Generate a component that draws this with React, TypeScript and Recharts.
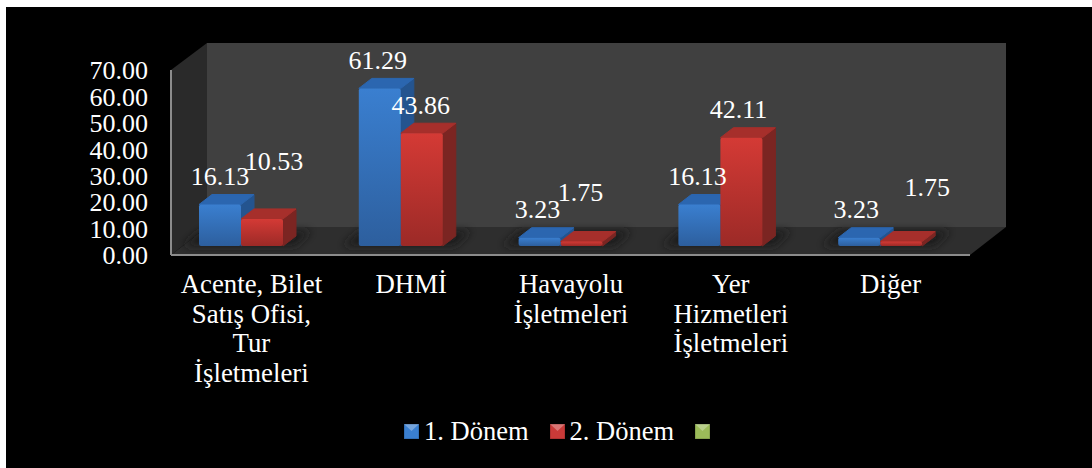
import React from 'react';
import { BarChart, Bar, XAxis, YAxis, Legend, LabelList } from 'recharts';

const tickLines = [
  ['Acente, Bilet', 'Satış Ofisi,', 'Tur', 'İşletmeleri'],
  ['DHMİ'],
  ['Havayolu', 'İşletmeleri'],
  ['Yer', 'Hizmetleri', 'İşletmeleri'],
  ['Diğer'],
];
const categories = tickLines.map((l) => l.join(' '));
const donem1 = [16.13, 61.29, 3.23, 16.13, 3.23];
const donem2 = [10.53, 43.86, 1.75, 42.11, 1.75];
const donem3 = [null, null, null, null, null];
const seriesNames = ['1. Dönem', '2. Dönem', ''];
const yTicks = [0, 10, 20, 30, 40, 50, 60, 70];

const data = categories.map((name, i) => ({
  name,
  donem1: donem1[i],
  donem2: donem2[i],
  donem3: donem3[i],
}));

// hand-moved labels in the original, [dx, dy] from the default spot above each bar
const nudges1 = [[0, 0], [-2, 0], [-2, 0], [-2, 0], [-3, 0]];
const nudges2 = [[12, -29], [-1, 0], [-1, -21], [-3, 0], [26, -26]];

const FONT = '"Liberation Serif", "Times New Roman", serif';
const DEPTH_X = 13;
const DEPTH_Y = 10;
// bars stand further back than the front axis: shifted right, lifted, slightly smaller
const BAR_SHIFT = 11;
const FLOOR_LIFT = 9;
const PLANE_SCALE = 0.973;

const toPlane = (y: number, height: number) => {
  const bottom = y + height - FLOOR_LIFT;
  return { top: bottom - height * PLANE_SCALE, bottom };
};

// the 3D room, in page pixels
const Room = () => (
  <g>
    <polygon points="207,43 1006,43 1006,227 207,227" fill="#404040" />
    <polygon points="171,70 207,43 207,227 171,255" fill="#2a2a2a" />
    <polygon points="171,255 207,227 1006,227 970,255" fill="#2e2e2e" />
  </g>
);

const make3dBar = (front: string, top: string, side: string, shadow: boolean) => (props: any) => {
  const { x, y, width, height } = props;
  if (!height) return <g />;
  const l = x + BAR_SHIFT;
  const r = l + width;
  const p = toPlane(y, height);
  return (
    <g>
      {/* the shadow covers the whole pair, so only the first series draws it */}
      {shadow && (
        <polygon
          points={`${l - 16},${p.bottom} ${l + 2},${p.bottom - 15} ${l + 112},${p.bottom - 15} ${l + 96},${p.bottom}`}
          fill="#1c1c1c"
          filter="url(#blur)"
        />
      )}
      <polygon
        points={`${r},${p.top} ${r + DEPTH_X},${p.top - DEPTH_Y} ${r + DEPTH_X},${p.bottom - DEPTH_Y} ${r},${p.bottom}`}
        fill={side}
        stroke={side}
        strokeLinejoin="round"
      />
      <polygon
        points={`${l},${p.top} ${l + DEPTH_X},${p.top - DEPTH_Y} ${r + DEPTH_X},${p.top - DEPTH_Y} ${r},${p.top}`}
        fill={top}
        stroke={top}
        strokeLinejoin="round"
      />
      <rect x={l} y={p.top} width={width} height={p.bottom - p.top} rx={2} fill={front} />
    </g>
  );
};

const BlueBar = make3dBar('url(#blueFront)', '#2b66b0', '#24548f', true);
const RedBar = make3dBar('url(#redFront)', '#a62f2b', '#7b2522', false);

const makeLabel = (nudges: number[][]) => (props: any) => {
  const { x, y, width, height, value, index } = props;
  if (value == null) return null;
  const [dx, dy] = nudges[index];
  return (
    <text
      x={x + width / 2 + BAR_SHIFT + dx}
      y={toPlane(y, height).top - 28 + dy}
      fill="#ffffff"
      fontFamily={FONT}
      fontSize={26}
      textAnchor="middle"
      dominantBaseline="central"
    >
      {Number(value).toFixed(2)}
    </text>
  );
};

const CategoryTick = (props: any) => {
  const { x, y, index } = props;
  return (
    <text x={x + 0.5} y={y} fill="#ffffff" fontFamily={FONT} fontSize={26.8} textAnchor="middle">
      {tickLines[index].map((line, i) => (
        <tspan key={line} x={x + 0.5} dy={i === 0 ? 30 : 29.7}>
          {line}
        </tspan>
      ))}
    </text>
  );
};

const swatchColors = ['#3a7fd0', '#c93a38', '#9bbb59'];

const LegendContent = () => (
  <div style={{ display: 'flex', fontFamily: FONT, fontSize: 26.5, color: '#fff', lineHeight: '30px' }}>
    {seriesNames.map((name, i) => (
      <div key={i} style={{ display: 'flex', alignItems: 'center', marginRight: name ? 21 : 0 }}>
        <svg width={15} height={15} style={{ marginRight: 5 }}>
          <rect width={15} height={15} fill={swatchColors[i]} />
          <polygon points="0,0 15,0 7.5,7" fill="#ffffff" opacity={0.3} />
          <rect width={15} height={15} fill="none" stroke="#000000" strokeOpacity={0.25} />
        </svg>
        <span>{name}</span>
      </div>
    ))}
  </div>
);

const App: React.FC = () => {
  return (
    <div style={{ position: 'absolute', left: 0, top: 0, width: 1092, height: 468, background: '#ffffff', overflow: 'hidden' }}>
      <div style={{ position: 'absolute', left: 6, top: 7, right: 0, bottom: 0, background: '#000000' }} />
      <div style={{ position: 'absolute', left: 0, top: 0 }}>
        <BarChart
          width={1092}
          height={468}
          data={data}
          margin={{ top: 70, right: 122, bottom: 33, left: 0 }}
          barCategoryGap={17}
          barGap={0}
        >
          <defs>
            <linearGradient id="blueFront" x1="0" y1="0" x2="0" y2="1">
              <stop offset="0%" stopColor="#3a7fd0" />
              <stop offset="100%" stopColor="#2d5f9e" />
            </linearGradient>
            <linearGradient id="redFront" x1="0" y1="0" x2="0" y2="1">
              <stop offset="0%" stopColor="#d43a35" />
              <stop offset="100%" stopColor="#9c2a27" />
            </linearGradient>
            <filter id="blur" x="-20%" y="-60%" width="140%" height="220%">
              <feGaussianBlur stdDeviation="4" />
            </filter>
          </defs>
          <Room />
          <XAxis
            dataKey="name"
            height={150}
            interval={0}
            tickLine={false}
            axisLine={{ stroke: '#8c8c8c', strokeWidth: 2 }}
            tick={CategoryTick}
          />
          <YAxis
            width={171}
            domain={[0, 70]}
            ticks={yTicks}
            interval={0}
            tickSize={0}
            tickMargin={23}
            tickFormatter={(v: number) => v.toFixed(2)}
            tick={{ fill: '#ffffff', fontFamily: FONT, fontSize: 26 }}
            axisLine={{ stroke: '#8c8c8c', strokeWidth: 2 }}
          />
          <Legend
            content={LegendContent}
            height={30}
            wrapperStyle={{ position: 'absolute', left: 404, top: 416, width: 'auto' }}
          />
          <Bar dataKey="donem1" name={seriesNames[0]} fill="#3a7fd0" shape={BlueBar} isAnimationActive={false}>
            <LabelList dataKey="donem1" content={makeLabel(nudges1)} />
          </Bar>
          <Bar dataKey="donem2" name={seriesNames[1]} fill="#d53a35" shape={RedBar} isAnimationActive={false}>
            <LabelList dataKey="donem2" content={makeLabel(nudges2)} />
          </Bar>
          <Bar dataKey="donem3" name={seriesNames[2]} fill="#9bbb59" isAnimationActive={false} />
        </BarChart>
      </div>
    </div>
  );
};

export default App;
